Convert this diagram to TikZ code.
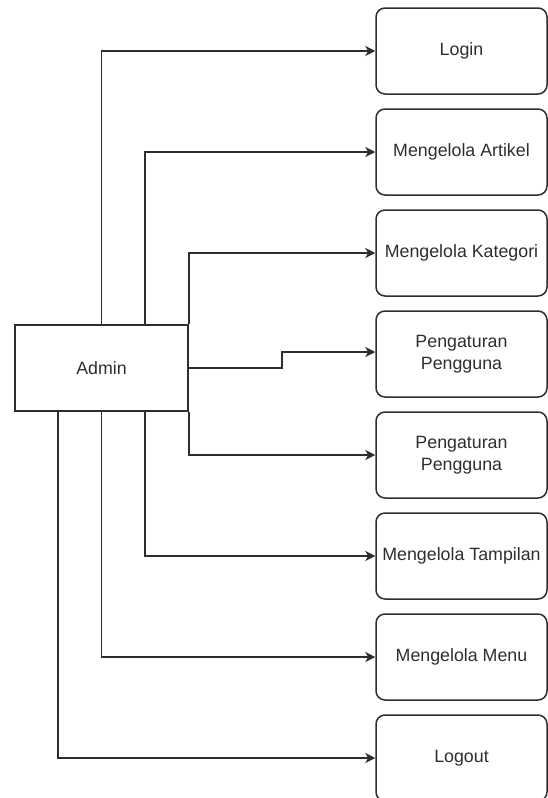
\documentclass[tikz,border=0pt]{standalone}
\usepackage{fontspec}
\setmainfont{Liberation Sans}
\usetikzlibrary{arrows.meta,calc}
\definecolor{ink}{HTML}{2E2E2E}

\begin{document}
\begin{tikzpicture}[
  x=1pt, y=-1pt,
  every node/.style={inner sep=1pt, text=ink, font=\fontsize{17.8}{22}\selectfont},
  actor/.style={draw=ink, line width=1.5pt, minimum width=173pt, minimum height=86pt},
  menubox/.style={draw=ink, line width=1.5pt, rounded corners=9pt, minimum width=171pt,
                  minimum height=86pt, align=center},
  edge/.style={draw=ink, line width=1.5pt, -{Stealth[length=10pt, width=10pt, inset=3pt]}}]

  \useasboundingbox (0,0) rectangle (548,798);

  % ---- nodes --------------------------------------------------------------
  % the actor on the left
  \node[actor] (admin) at (101.5,368) {Admin};

  % menu items, top to bottom, one every 101pt
  \node[menubox] (login)     at (461.5,51)  {Login};
  \node[menubox] (artikel)   at (461.5,152) {Mengelola Artikel};
  \node[menubox] (kategori)  at (461.5,253) {Mengelola Kategori};
  \node[menubox] (pengguna1) at (461.5,354) {Pengaturan\\Pengguna};
  \node[menubox] (pengguna2) at (461.5,455) {Pengaturan\\Pengguna};
  \node[menubox] (tampilan)  at (461.5,556) {Mengelola Tampilan};
  \node[menubox] (menu)      at (461.5,657) {Mengelola Menu};
  \node[menubox] (logout)    at (461.5,758) {Logout};

  % ---- edges --------------------------------------------------------------
  % from the top side of the actor
  \draw[edge] (admin.north) |- (login.west);
  \draw[edge] ($(admin.north west)!0.75!(admin.north east)$) |- (artikel.west);
  \draw[edge] (admin.north east) |- (kategori.west);
  % from the right side, with a small step
  \draw[edge] (admin.east) -- ++(93,0) |- ([yshift=2pt]pengguna1.west);
  % from the bottom side of the actor
  \draw[edge] (admin.south east) |- (pengguna2.west);
  \draw[edge] ($(admin.south west)!0.75!(admin.south east)$) |- (tampilan.west);
  \draw[edge] (admin.south) |- (menu.west);
  \draw[edge] ($(admin.south west)!0.25!(admin.south east)$) |- (logout.west);
\end{tikzpicture}
\end{document}
